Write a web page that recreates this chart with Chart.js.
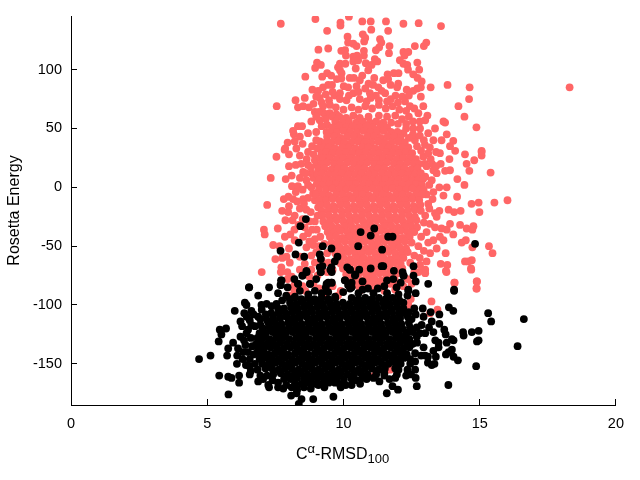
<!DOCTYPE html>
<html>
<head>
<meta charset="utf-8">
<script src="https://cdn.jsdelivr.net/npm/chart.js@4"></script>
<style>
  html, body { margin:0; padding:0; background:#fff; }
  canvas { display:block; }
</style>
</head>
<body>
<canvas id="c" width="640" height="480"></canvas>
<script>
// values, [rmsd, energy]. the solid middle of each cloud can't be
// read point by point, those rows are only an estimate of the filled area
const xTicks = [0, 5, 10, 15, 20];
const yTicks = [-150, -100, -50, 0, 50, 100];

const redOuter = [
[7.7,139],[8.97,143],[10.2,145],[9.89,140],[9.89,137.5],[10.69,141],[11,141],[11.56,141],[12.2,139],[12.76,139.5],[13.58,137],
[9.4,133],[11.02,134],[11.64,133],[10.15,128],[10.71,130],[10.8,127],[10.76,124],[10.17,123],[10.36,122],[10.48,120],[11.34,126],
[11.39,123],[11.69,120],[12.62,120],[12.95,120],[13.04,123],[9.08,117],[9.44,118],[9.92,116],[10.06,116.5],[10.09,112],[10.75,116],
[10.75,112],[11.31,119],[11.19,116.5],[11.67,114],[12.2,115],[12.38,115],[12.24,112],[10.36,111],[10.5,112],[10.36,107],[10.54,108],
[11.15,109],[11.24,107],[12.07,108],[9.03,106],[9.17,104],[8.96,101.5],[10.82,105.5],[11.03,104],[12.71,106],[12.2,105],[12.34,104],
[9.87,105],[10.07,105],[9.8,102],[9.87,99.5],[9.93,97],[10.45,101],[10.91,99.5],[12.37,100],[12.78,100],[9.4,97],[9.22,94],[9.55,95],
[8.6,94],[9.76,92],[9.92,92.5],[10.23,93],[10.38,93],[10.69,95],[11.13,93],[11.62,96],[11.85,97],[12.02,97],[12.56,96],[12.72,93],
[12.87,90],[10.6,91],[10.92,88],[11.46,91],[11.64,92],[12.01,88],[11.97,85],[12.84,85],[13.2,85],[13.82,87],[14.63,85],[8.86,83],
[9.07,82],[9.25,85],[9.44,87],[9.58,87],[10.01,86],[10.17,85],[10.48,86],[11.09,87],[11.28,85],[11.73,87],[12.32,83],[12.56,82],
[12.71,84],[8.58,76],[8.24,74],[9.13,76],[9.47,74],[9.68,78],[9.87,80],[10.36,80],[10.97,80],[11.19,78],[11.53,80],[11.91,78],
[12.16,77],[11.74,75],[12.84,77],[14.61,75],[7.55,69],[8.33,68],[8.52,69],[8.73,68],[8.9,71],[8.95,64],[9.87,75],[10.11,74],[10.6,75],
[10.85,73],[12.26,73],[12.44,69],[12.93,69],[14.22,69],[14.44,60],[14.88,51],[9.28,63],[9.5,63],[9.74,62],[12.75,63],[13.08,61],
[13,57],[13.67,56],[13.73,55],[13.36,50],[12.81,50],[12.56,50],[12.2,46],[13.11,46],[13.79,45],[13.6,40],[14.03,39.5],[12.62,40],
[12.99,36],[13.17,34],[13.91,35],[14.1,31],[15.07,31],[8.18,45],[8.7,46],[8.4,43],[8.21,39],[7.86,33],[8.33,52],[8.48,52],[8.82,56],
[9.13,57],[9,47],[9.38,47],[9.56,46],[9.13,39],[7.84,32],[7.54,26],[8,18],[7.33,8],[7.88,7],[8.11,1],[8.33,1],[8.25,-4],[7.81,-10],
[7.98,-8],[7.2,-15],[8,-16],[7.97,-21],[7.87,-28],[8.13,-28],[7.08,-36],[7.11,-40],[7.59,-35],[7.42,-49],[7.5,-61],[7.72,-68],[7,-72],
[7.94,-72],[7.91,-59],[8.03,-64],[8.4,-70],[7.97,-85],[8.25,19],[8.4,27],[8.27,33],[8.52,13],[8.64,6],[8.7,19],[8.95,23],[8.82,12],
[9.07,14.5],[8.52,-10],[8.4,-18],[8.64,-19],[8.21,-24],[8.58,-34],[8.7,-39],[8.52,-42],[8.21,-45],[8.64,-51],[8.89,-49],[8.82,-58],
[8.58,-65],[8.82,-70],[8.4,-59],[8.89,-5],[8.82,0],[9.07,-17],[8.95,-29],[15.07,30],[15.07,27],[14.46,28],[14.8,23],[14.52,20],
[14.62,14],[15.4,12.5],[14.18,7],[14.44,2],[14.17,-8],[14.7,-14],[14.96,-13],[15.54,-13],[16.02,-11],[14.99,-21],[13.86,-19],[14.06,-21],
[14.3,-20],[14.28,-32],[13.91,-31],[13.6,-35],[13.79,-36],[14.03,-40],[14.52,-35],[14.73,-36],[14.77,-33],[14.34,-47],[14.49,-45],
[14.73,-51],[15.34,-50],[15.47,-56],[14.46,-63],[14.58,-63],[14.71,-62],[14.68,-69],[13.81,-66],[13.57,-65],[13.76,-71],[14.07,-81],
[14.89,-80],[14.89,-86],[13.54,29],[13.89,24],[13.57,20],[13.91,14.5],[13.73,14],[13.42,12],[13.24,6],[13.52,0],[13.79,0],[13.67,-7],
[13.27,-10],[13.11,-14],[13.52,-20],[13.36,-22],[13.42,-25],[13.17,-31],[13.36,-34],[13.54,-42],[13.3,-45],[13.67,-45],[13.11,-47],
[13.42,-52],[13.75,-56],[13.18,-56],[13.05,-63],[12.81,-66],[13,-70],[12.93,26],[13.11,29],[12.99,20],[13.3,14.5],[13.78,-72],
[14.08,-81],[14.9,-80],[14.88,-86],[14.69,-70],[13.23,-97],[13.45,-104],[12.47,-95],[12.38,-100],[13.18,-107],[11.13,-160],[11.71,-155],
[10.73,-105],[12.94,-71],[13,-73],[12.75,-72],[18.3,85]
];

// the busy ring round the solid part
const redRing = [
[9.2,72],[9.5,70],[9.72,68],[10,66],[10.3,68],[10.55,66],[10.8,69],[11.05,67],[11.3,70],[11.55,67],[11.8,69],[12.05,66],[12.3,65],[12.6,67],
[9.35,79],[9.6,81],[10.2,78],[10.55,81],[10.8,84],[11,76],[11.3,74],[11.6,73],[11.4,82],[12,72],[12.4,78],[9,77],[9.25,69],[9.1,64],
[9.35,58],[9.6,60],[11.3,61],[11.6,60],[11.9,61],[12.15,58],[12.4,60],[11.75,55],[12,54],[12.3,54],[12.55,56],[12.8,56],[9.4,53],[9.2,52],[9,60],
[12.3,50],[12.55,45],[12.8,44],[12.95,40],[12.4,42],[12.7,35],[12.85,31],[13.3,40],[13.4,30],[13.2,24],[13.05,18],[13.25,20],[13.4,18],
[13,9],[13.15,2],[13.3,-4],[13.05,-6],[13.15,-18],[13,-24],[12.95,-30],[13.05,-38],[12.85,-42],[12.75,-50],[12.95,-54],[12.6,-58],[12.8,-60],
[12.45,-64],[12.6,-72],[12.35,-78],[12.2,-84],[12.5,-82],
[9,40],[8.85,35],[9.05,33],[8.7,30],[8.5,37],[8.9,28],[8.65,24],[8.45,20],[9.02,19],[8.8,17],[8.6,12],[8.4,8],[8.9,8],[8.7,2],[8.5,-2],
[8.7,-9],[8.95,-11],[8.3,-12],[8.55,-14],[8.8,-21],[8.5,-27],[8.75,-29],[9.05,-24],[8.35,-32],[9.02,-36],[8.85,-36],[9.15,-42],[8.95,-44],
[8.75,-46],[9.3,-48],[9.1,-50],[9,-55],[9.4,-56],[9.2,-62],[9.45,-64],[8.95,-64],[9.6,-70],[9.4,-72],[9.05,-75],[8.75,-76],[8.1,-76],[7.95,-78],
[8.2,-83],[8.5,-84],[7.7,-72],[7.75,-60],[7.65,-50],[8,-52],[8.05,-40],[7.85,-42],[8.2,-36],[7.75,-20],[8.15,-10],[8.1,10],[8,28],[8.15,48],[7.95,38]
];

const redCore = [
[9.85,60],[10.1,59],[10.36,61],[10.6,59],[10.92,60],
[9.7,56],[9.96,55],[10.2,56],[10.47,55],[10.71,56],[10.97,55],[11.2,56],[11.46,55],
[9.6,51],[9.84,52],[10.09,51],[10.34,52],[10.6,51],[10.85,52],[11.09,51],[11.36,52],[11.6,51],
[9.52,47],[9.76,47],[10,48],[10.25,47],[10.5,47],[10.74,48],[10.98,47],[11.24,47],[11.48,48],[11.74,47],[11.98,47],
[9.4,43],[9.66,43],[9.9,42],[10.14,43],[10.4,43],[10.63,42],[10.88,43],[11.12,43],[11.37,42],[11.62,43],[11.87,43],[12.1,42],
[9.34,38],[9.56,38],[9.8,39],[10.04,38],[10.29,38],[10.53,39],[10.78,38],[11.02,38],[11.27,39],[11.51,38],[11.76,38],[12,39],[12.25,38],
[9.26,34],[9.46,34],[9.7,33],[9.95,34],[10.19,34],[10.44,33],[10.68,34],[10.92,34],[11.17,33],[11.41,34],[11.66,34],[11.9,33],[12.14,34],[12.38,34],
[9.2,29],[9.36,30],[9.6,29],[9.85,29],[10.09,30],[10.33,29],[10.58,29],[10.82,30],[11.07,29],[11.31,29],[11.56,30],[11.8,29],[12.05,29],[12.29,30],[12.52,29],
[9.14,25],[9.27,25],[9.5,25],[9.75,24],[10,25],[10.24,25],[10.48,24],[10.73,25],[10.97,25],[11.22,24],[11.46,25],[11.7,25],[11.95,24],[12.19,25],[12.43,25],[12.66,24],
[9.2,20],[9.4,21],[9.65,20],[9.89,20],[10.14,21],[10.38,20],[10.63,20],[10.87,21],[11.12,20],[11.36,20],[11.6,21],[11.85,20],[12.09,20],[12.34,21],[12.58,20],[12.77,20],
[9.1,16],[9.3,16],[9.55,15],[9.79,16],[10.04,16],[10.28,15],[10.53,16],[10.77,16],[11.02,15],[11.26,16],[11.5,16],[11.75,15],[12,16],[12.24,16],[12.48,15],[12.72,16],
[9.05,11],[9.2,12],[9.45,11],[9.7,11],[9.94,12],[10.18,11],[10.43,11],[10.67,12],[10.92,11],[11.16,11],[11.41,12],[11.65,11],[11.9,11],[12.14,12],[12.38,11],[12.62,11],[12.84,12],
[9.12,7],[9.34,7],[9.59,6],[9.83,7],[10.08,7],[10.32,6],[10.57,7],[10.81,7],[11.06,6],[11.3,7],[11.54,7],[11.79,6],[12.03,7],[12.28,7],[12.52,6],[12.76,7],[12.92,7],
[9.02,3],[9.24,2],[9.48,3],[9.73,3],[9.97,2],[10.22,3],[10.46,3],[10.71,2],[10.95,3],[11.2,3],[11.44,2],[11.68,3],[11.93,3],[12.17,2],[12.42,3],[12.66,3],[12.88,2],
[9.1,-2],[9.36,-2],[9.6,-1],[9.85,-2],[10.1,-2],[10.34,-1],[10.58,-2],[10.83,-2],[11.07,-1],[11.32,-2],[11.56,-2],[11.8,-1],[12.05,-2],[12.3,-2],[12.54,-1],[12.78,-2],[12.94,-2],
[9,-6],[9.24,-6],[9.48,-7],[9.73,-6],[9.97,-6],[10.22,-7],[10.46,-6],[10.7,-6],[10.95,-7],[11.2,-6],[11.44,-6],[11.68,-7],[11.93,-6],[12.17,-6],[12.42,-7],[12.66,-6],[12.88,-6],
[9.12,-11],[9.36,-11],[9.6,-10],[9.85,-11],[10.09,-11],[10.34,-10],[10.58,-11],[10.82,-11],[11.07,-10],[11.32,-11],[11.56,-11],[11.8,-10],[12.05,-11],[12.29,-11],[12.53,-10],[12.78,-11],
[9.16,-15],[9.4,-15],[9.64,-16],[9.89,-15],[10.13,-15],[10.38,-16],[10.62,-15],[10.86,-15],[11.11,-16],[11.35,-15],[11.6,-15],[11.84,-16],[12.09,-15],[12.33,-15],[12.58,-16],[12.82,-15],
[9.2,-20],[9.44,-20],[9.68,-19],[9.93,-20],[10.17,-20],[10.42,-19],[10.66,-20],[10.9,-20],[11.15,-19],[11.39,-20],[11.64,-20],[11.88,-19],[12.13,-20],[12.37,-20],[12.62,-19],[12.84,-20],
[9.22,-24],[9.46,-24],[9.7,-25],[9.95,-24],[10.2,-24],[10.44,-25],[10.68,-24],[10.93,-24],[11.17,-25],[11.42,-24],[11.66,-24],[11.9,-25],[12.15,-24],[12.4,-24],[12.62,-25],
[9.26,-29],[9.5,-29],[9.75,-28],[10,-29],[10.24,-29],[10.48,-28],[10.73,-29],[10.97,-29],[11.22,-28],[11.46,-29],[11.7,-29],[11.95,-28],[12.19,-29],[12.44,-29],[12.68,-28],
[9.33,-33],[9.56,-33],[9.8,-34],[10.05,-33],[10.29,-33],[10.54,-34],[10.78,-33],[11.03,-33],[11.27,-34],[11.51,-33],[11.76,-33],[12,-34],[12.25,-33],[12.49,-33],[12.7,-34],
[9.42,-38],[9.66,-38],[9.9,-37],[10.15,-38],[10.39,-38],[10.64,-37],[10.88,-38],[11.12,-38],[11.37,-37],[11.62,-38],[11.86,-38],[12.1,-37],[12.35,-38],[12.6,-38],
[9.5,-42],[9.74,-42],[9.98,-43],[10.23,-42],[10.47,-42],[10.72,-43],[10.96,-42],[11.2,-42],[11.45,-43],[11.7,-42],[11.94,-42],[12.18,-43],[12.43,-42],
[9.56,-47],[9.8,-47],[10.05,-46],[10.3,-47],[10.54,-47],[10.78,-46],[11.03,-47],[11.27,-47],[11.52,-46],[11.76,-47],[12,-47],[12.25,-46],[12.5,-47],
[9.62,-51],[9.86,-51],[10.1,-52],[10.35,-51],[10.6,-51],[10.84,-52],[11.08,-51],[11.33,-51],[11.57,-52],[11.82,-51],[12.06,-51],[12.3,-52],
[9.7,-56],[9.94,-56],[10.18,-55],[10.43,-56],[10.67,-56],[10.92,-55],[11.16,-56],[11.4,-56],[11.65,-55],[11.9,-56],[12.14,-56],[12.36,-55],
[9.76,-60],[10,-60],[10.25,-61],[10.5,-60],[10.74,-60],[10.98,-61],[11.23,-60],[11.47,-60],[11.72,-61],[11.96,-60],[12.2,-60],
[9.9,-65],[10.15,-65],[10.4,-64],[10.64,-65],[10.88,-65],[11.13,-64],[11.37,-65],[11.62,-65],[11.86,-64],[12.1,-65],
[9.98,-69],[10.22,-69],[10.47,-70],[10.72,-69],[10.96,-69],[11.2,-70],[11.45,-69],[11.7,-69],[11.94,-70],[12.16,-69],
[10.1,-74],[10.34,-74],[10.58,-73],[10.83,-74],[11.07,-74],[11.32,-73],[11.56,-74],[11.8,-74],[12.04,-73],
[10.16,-78],[10.4,-78],[10.65,-79],[10.9,-78],[11.14,-78],[11.38,-79],[11.63,-78],[11.88,-78],
[10.5,-83],[10.74,-83],[10.98,-82],[11.23,-83],[11.48,-83],[11.72,-82],[11.96,-83],[9.9,-88],[10.6,-88],[11.1,-88],[11.5,-88],[11.9,-87],
[8.9,-82],[9.1,-86],[9.3,-90],[9.6,-84],[8.6,-88],[8.2,-88],[9.8,-92],[8.02,-92]
];

const blackOuter = [
[6.54,-85],[7.27,-85],[6.87,-92],[7.6,-90],[7.73,-79],[7.7,-83],[6.38,-98],[6.44,-100],[6.01,-105],[6.36,-107],[6.62,-105],[6.99,-100],
[7.18,-99],[7.36,-101],[7.54,-99],[7,-104],[6.87,-110],[6.56,-113],[6.22,-114],[6.28,-118],[5.46,-121],[5.69,-120],[5.52,-125],[5.42,-131],
[5.95,-132],[6.22,-127],[6.44,-124],[6.62,-117],[5.77,-137],[6.13,-137],[6.32,-140],[5.73,-143],[6.1,-143],[4.7,-146],[5.12,-143],[6.56,-146],
[6.09,-150],[6.42,-151],[5.44,-160],[5.77,-161],[5.89,-162],[6.17,-160],[6.17,-166],[6.56,-159],[6.87,-165],[7.05,-163],[7.27,-170],[7.24,-168],
[5.78,-176],[7.6,-166],[7.79,-171],[8.08,-177],[8.28,-175],[8.55,-170],[8.46,-180],[8.36,-184],[8.89,-180],[9.63,-178],[9.08,-168],[9.69,-166],
[10.08,-168],[8.03,-95],[8.22,-93],[7.95,-85],[8.34,-82],[8.5,-75],[8.65,-72],[8.77,-82],[8.71,-91],[9.16,-72],[9.38,-82],[9.57,-81],[9.44,-89],
[9.99,-89],[9.69,-93],[10.06,-79],[10.3,-81],[10.24,-86],[10.42,-75],[9.57,-72],[10.24,-70],[8.62,-27],[8.42,-33],[8.36,-47],[7.69,-54],[8.24,-57],
[8.56,-59],[9.24,-50],[9.56,-52],[9.13,-57],[9.17,-61],[9.78,-59],[9.68,-63],[10.63,-38],[11.13,-35],[11,-41],[11.64,-42],[11.8,-42],[10.54,-50],
[11.42,-53],[14.83,-48],[9.13,-68],[9.23,-67],[9.17,-72],[9.56,-68],[9.52,-70],[8.64,-71],[8.49,-75],[10.14,-68],[10.23,-70],[10.58,-70],[10.44,-74],
[11,-69],[11.4,-67],[11.46,-67],[11.85,-71],[12.17,-72],[12.21,-75],[12.57,-67],[12.57,-75],[11.83,-78],[12.65,-80],[13.11,-82],[7.71,-79],[7.69,-83],
[8.33,-82],[8.78,-82],[6.53,-85],[9.44,-81],[9.35,-85],[9.56,-81],[10.05,-79],[10.17,-83],[10.3,-85],[10.7,-87],[11.26,-86],[12.38,-87],[14.06,-87],
[12.65,-90],[14.06,-88],[12.38,-88],[12.02,-91],[12.2,-75],[12.6,-103],[12.91,-103],[13.2,-106],[13.87,-102],[14.03,-105],[15.31,-107],[15.42,-114],
[16.62,-112],[16.39,-135],[14.87,-152],[13.85,-168],[14.96,-122],[14.71,-123],[14.39,-123],[14.41,-126],[14.96,-130],[14.9,-131],[14.04,-130],
[13.98,-129],[13.79,-132],[13.98,-138],[13.86,-140],[13.76,-142],[14.04,-144],[14.2,-147],[13.7,-121],[13.75,-125],[13.52,-108],[13.52,-116],
[13.24,-114],[12.94,-110],[13.14,-119],[12.87,-117],[12.69,-119],[13.3,-123],[13,-124],[13.37,-130],[13.49,-132],[13.49,-136],[12.94,-136],
[13.3,-139],[13,-143],[13.1,-144],[13.39,-144],[13.1,-149],[13.24,-151],[13.34,-150],[12.63,-148],[12.45,-150],[12.63,-155],[12.48,-159],[12.65,-162],
[12.69,-169],[12.02,-155],[11.69,-163],[11.32,-165],[11.8,-169],[12,-172],[11.59,-175],[10.61,-167],[12.08,-147],[11.83,-144],[12.14,-140],[12.45,-134],
[12.63,-141],[12.69,-127],[12.38,-123],[12.2,-129]
];

// denser fringe of the black cloud
const blackRing = [
[6.7,-108],[6.95,-112],[6.45,-110],[6.75,-118],[6.5,-121],[6.35,-130],[6.6,-128],[6.4,-134],[6.65,-135],[6.5,-140],[6.7,-142],[6.3,-146],[6.55,-152],
[6.75,-150],[6.6,-156],[6.85,-155],[6.95,-160],[7.2,-160],[7.4,-164],[7.6,-170],[7.9,-168],[8.1,-170],[8.3,-172],[8.8,-171],[9.3,-170],[9.9,-170],
[10.3,-168],[10.5,-164],[10.85,-163],[11.1,-162],[11.5,-160],[11.9,-162],[12.3,-160],[12.35,-155],[12.45,-146],[12.7,-132],[12.8,-124],[12.85,-143],
[12.5,-112],[12.65,-108],[12.4,-106],[12.2,-98],[12.35,-92],[12.05,-96],[11.6,-90],[11.1,-90],[10.55,-90],[10.9,-86],[11.5,-84],[11.95,-85],[12.1,-81],
[9.2,-90],[8.95,-88],[8.4,-88],[7.9,-92],[7.75,-96],[7.6,-103],[7.35,-107],[7.15,-108],[7.2,-113],[6.95,-117],[11.6,-79],[10.7,-80],[9,-78],[8.2,-78]
];

const blackCore = [
[8.2,-94],[8.45,-95],[8.7,-94],[8.94,-95],[9.2,-94],[9.44,-95],[9.7,-94],[10.3,-94],[10.55,-95],[10.8,-94],[11.05,-95],[11.3,-94],[11.55,-95],[11.8,-94],
[8.04,-98],[8.28,-99],[8.52,-98],[8.76,-99],[9.01,-98],[9.25,-99],[9.5,-98],[9.74,-99],[9.98,-98],[10.23,-99],[10.47,-98],[10.72,-99],[10.96,-98],[11.2,-99],[11.45,-98],[11.7,-99],[11.94,-98],
[7.82,-103],[8.08,-102],[8.32,-103],[8.56,-102],[8.8,-103],[9.05,-102],[9.3,-103],[9.54,-102],[9.78,-103],[10.03,-102],[10.27,-103],[10.52,-102],[10.76,-103],[11,-102],[11.25,-103],[11.5,-102],[11.74,-103],[11.98,-102],[12.2,-103],
[7.62,-107],[7.88,-107],[8.12,-106],[8.36,-107],[8.6,-107],[8.85,-106],[9.1,-107],[9.34,-107],[9.58,-106],[9.83,-107],[10.07,-107],[10.32,-106],[10.56,-107],[10.8,-107],[11.05,-106],[11.3,-107],[11.54,-107],[11.78,-106],[12.03,-107],[12.28,-107],
[7.42,-111],[7.68,-111],[7.92,-110],[8.16,-111],[8.4,-111],[8.65,-110],[8.9,-111],[9.14,-111],[9.38,-110],[9.63,-111],[9.87,-111],[10.12,-110],[10.36,-111],[10.6,-111],[10.85,-110],[11.1,-111],[11.34,-111],[11.58,-110],[11.83,-111],[12.08,-111],[12.36,-110],
[7.24,-115],[7.48,-115],[7.72,-116],[7.97,-115],[8.21,-115],[8.46,-116],[8.7,-115],[8.94,-115],[9.19,-116],[9.43,-115],[9.68,-115],[9.92,-116],[10.16,-115],[10.41,-115],[10.65,-116],[10.9,-115],[11.14,-115],[11.38,-116],[11.63,-115],[11.88,-115],[12.12,-116],[12.4,-115],
[7.04,-120],[7.28,-119],[7.52,-120],[7.76,-120],[8.01,-119],[8.26,-120],[8.5,-120],[8.74,-119],[8.99,-120],[9.23,-120],[9.48,-119],[9.72,-120],[9.96,-120],[10.21,-119],[10.45,-120],[10.7,-120],[10.94,-119],[11.18,-120],[11.43,-120],[11.68,-119],[11.92,-120],[12.16,-120],[12.44,-119],
[6.92,-124],[7.15,-124],[7.4,-123],[7.64,-124],[7.88,-124],[8.13,-123],[8.38,-124],[8.62,-124],[8.86,-123],[9.11,-124],[9.35,-124],[9.6,-123],[9.84,-124],[10.08,-124],[10.33,-123],[10.57,-124],[10.82,-124],[11.06,-123],[11.3,-124],[11.55,-124],[11.8,-123],[12.04,-124],[12.3,-124],[12.55,-123],
[6.84,-128],[7.04,-128],[7.28,-129],[7.52,-128],[7.77,-128],[8.01,-129],[8.26,-128],[8.5,-128],[8.74,-129],[8.99,-128],[9.23,-128],[9.48,-129],[9.72,-128],[9.96,-128],[10.21,-129],[10.45,-128],[10.7,-128],[10.94,-129],[11.18,-128],[11.43,-128],[11.68,-129],[11.92,-128],[12.16,-128],[12.42,-129],
[6.8,-133],[6.96,-132],[7.2,-133],[7.44,-133],[7.68,-132],[7.93,-133],[8.18,-133],[8.42,-132],[8.66,-133],[8.91,-133],[9.15,-132],[9.4,-133],[9.64,-133],[9.88,-132],[10.13,-133],[10.37,-133],[10.62,-132],[10.86,-133],[11.1,-133],[11.35,-132],[11.6,-133],[11.84,-133],[12.08,-132],[12.33,-133],[12.54,-133],
[6.86,-137],[7.08,-137],[7.32,-136],[7.56,-137],[7.8,-137],[8.05,-136],[8.3,-137],[8.54,-137],[8.78,-136],[9.03,-137],[9.27,-137],[9.52,-136],[9.76,-137],[10,-137],[10.25,-136],[10.49,-137],[10.74,-137],[10.98,-136],[11.22,-137],[11.47,-137],[11.72,-136],[11.96,-137],[12.2,-137],[12.42,-136],
[6.82,-141],[7,-141],[7.24,-142],[7.48,-141],[7.72,-141],[7.97,-142],[8.22,-141],[8.46,-141],[8.7,-142],[8.95,-141],[9.19,-141],[9.44,-142],[9.68,-141],[9.92,-141],[10.17,-142],[10.41,-141],[10.66,-141],[10.9,-142],[11.14,-141],[11.39,-141],[11.64,-142],[11.88,-141],[12.12,-141],[12.32,-142],
[6.92,-146],[7.14,-145],[7.38,-146],[7.62,-146],[7.86,-145],[8.11,-146],[8.36,-146],[8.6,-145],[8.84,-146],[9.09,-146],[9.33,-145],[9.58,-146],[9.82,-146],[10.06,-145],[10.31,-146],[10.55,-146],[10.8,-145],[11.04,-146],[11.28,-146],[11.53,-145],[11.78,-146],[12.02,-146],[12.22,-145],
[7.02,-150],[7.26,-150],[7.5,-149],[7.74,-150],[7.98,-150],[8.23,-149],[8.48,-150],[8.72,-150],[8.96,-149],[9.21,-150],[9.45,-150],[9.7,-149],[9.94,-150],[10.18,-150],[10.43,-149],[10.67,-150],[10.92,-150],[11.16,-149],[11.4,-150],[11.65,-150],[11.9,-149],[12.1,-150],
[7.14,-154],[7.38,-154],[7.62,-155],[7.86,-154],[8.1,-154],[8.35,-155],[8.6,-154],[8.84,-154],[9.08,-155],[9.33,-154],[9.57,-154],[9.82,-155],[10.06,-154],[10.3,-154],[10.55,-155],[10.79,-154],[11.04,-154],[11.28,-155],[11.52,-154],[11.9,-154],
[7.42,-159],[7.7,-158],[7.95,-159],[8.2,-159],[8.44,-158],[8.68,-159],[8.93,-159],[9.17,-158],[9.42,-159],[9.66,-159],[9.9,-158],[10.15,-159],[10.39,-159],[10.64,-158],[10.88,-159],[11.2,-159],[11.5,-158],[11.96,-159],
[7.82,-163],[8.06,-163],[8.3,-162],[8.55,-163],[8.8,-163],[9.04,-162],[9.28,-163],[9.53,-163],[9.77,-162],[10.02,-163],[10.3,-163],[10.7,-162],
[8.22,-167],[8.46,-167],[8.72,-166],[8.98,-167],[9.22,-167],[9.46,-166],[9.86,-167]
];

const toPoints = list => list.map(p => ({x: p[0], y: p[1]}));

const fontName = '"Liberation Sans", sans-serif';

// gnuplot style label with the alpha raised and the 100 dropped
const xLabelPlugin = {
  id: 'xLabel',
  afterDraw(chart) {
    const ctx = chart.ctx;
    const parts = [
      {t:'C', size:16, dy:0},
      {t:'α', size:13, dy:-6},
      {t:'-RMSD', size:16, dy:0},
      {t:'100', size:13, dy:4}
    ];
    ctx.save();
    ctx.fillStyle = '#000';
    ctx.textBaseline = 'alphabetic';
    let x = 296;
    parts.forEach(p => {
      ctx.font = p.size + 'px ' + fontName;
      ctx.fillText(p.t, x, 459 + p.dy);
      x += ctx.measureText(p.t).width;
    });
    ctx.restore();
  }
};

new Chart(document.getElementById('c'), {
  type: 'scatter',
  data: {
    datasets: [
      {data: toPoints(redOuter.concat(redRing, redCore)), backgroundColor:'#ff6666', borderWidth:0, pointRadius:3.9, order:2},
      {data: toPoints(blackOuter.concat(blackRing, blackCore)), backgroundColor:'#000', borderWidth:0, pointRadius:3.9, order:1}
    ]
  },
  options: {
    responsive: false,
    animation: false,
    layout: {padding:{top:16, right:24, left:0, bottom:0}},
    plugins: {legend:{display:false}, tooltip:{enabled:false}},
    scales: {
      x: {
        type:'linear', min:0, max:20,
        afterBuildTicks: s => { s.ticks = xTicks.map(v => ({value:v})); },
        afterFit: s => { s.height = 75; },
        grid: {drawOnChartArea:false, tickLength:-6, tickColor:'#000', tickWidth:1},
        border: {color:'#000', width:1},
        ticks: {color:'#000', font:{family:fontName, size:14.5}, maxRotation:0, padding:16}
      },
      y: {
        type:'linear', min:-185, max:145.6,
        afterBuildTicks: s => { s.ticks = yTicks.map(v => ({value:v})); },
        afterFit: s => { s.width = 71; s.paddingTop = 0; s.paddingBottom = 0; },
        grid: {drawOnChartArea:false, tickLength:-6, tickColor:'#000', tickWidth:1},
        border: {color:'#000', width:1},
        ticks: {color:'#000', font:{family:fontName, size:14.5}, padding:15},
        title: {display:true, text:'Rosetta Energy', color:'#000', font:{family:fontName, size:16}, padding:{top:5, bottom:0}}
      }
    }
  },
  plugins: [xLabelPlugin]
});
</script>
</body>
</html>
